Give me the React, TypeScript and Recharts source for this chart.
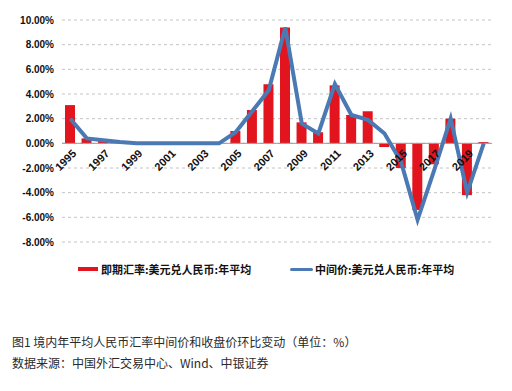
import { ComposedChart, Bar, Line, XAxis, YAxis, CartesianGrid, ReferenceLine } from 'recharts';

const years = [
  '1995', '1996', '1997', '1998', '1999', '2000', '2001', '2002', '2003', '2004', '2005', '2006', '2007',
  '2008', '2009', '2010', '2011', '2012', '2013', '2014', '2015', '2016', '2017', '2018', '2019', '2020',
];
const spotChange = [3.1, 0.4, 0.2, 0, 0, 0, 0, 0, 0, 0, 1.0, 2.7, 4.8, 9.4, 1.7, 0.9, 4.7, 2.3, 2.6, -0.3, -2.0, -5.4, -1.7, 2.0, -4.2, 0.1];
const centralChange = [2.0, 0.4, 0.25, 0.1, 0, 0, 0, 0, 0, 0, 0.9, 2.6, 4.3, 9.4, 1.6, 0.8, 4.8, 2.3, 1.9, 0.8, -1.5, -6.2, -2.2, 2.0, -4.0, 0];
const yTicks = [-8, -6, -4, -2, 0, 2, 4, 6, 8, 10];

const spotName = '即期汇率:美元兑人民币:年平均';
const centralName = '中间价:美元兑人民币:年平均';

const RED = '#E2141E';
const BLUE = '#4A79B3';

const W = 504;
const H = 250;
const TOP = 12;
const BOTTOM = 14;
const PLOT_H = H - TOP - BOTTOM - 2;
const Y_MIN = -8;
const Y_MAX = 10;
const ZERO_Y = TOP + (PLOT_H * Y_MAX) / (Y_MAX - Y_MIN);

const data = years.map((y, i) => ({ year: y, spot: spotChange[i], central: centralChange[i] }));

const font = '"Liberation Sans", Arial, sans-serif';
const cjk = '"Noto Sans CJK SC", "Noto Sans", sans-serif';

// year labels sit on the zero line, drawn over the bars like the original
function YearTick({ x, payload }: any) {
  return (
    <g transform={`translate(${x + 4},${ZERO_Y + 8}) rotate(-45)`}>
      <text textAnchor="end" dy="0.35em" fontSize={11} fontWeight="bold" fill="#111" fontFamily={font}>
        {payload.value}
      </text>
    </g>
  );
}

export default function App() {
  return (
    <div style={{ width: W, position: 'relative', background: '#fff' }}>
      <ComposedChart width={W} height={H} data={data} margin={{ top: TOP, right: 20, bottom: BOTTOM, left: 0 }}>
        <CartesianGrid vertical={false} stroke="#c4c4c4" strokeDasharray="3 3" />
        <XAxis dataKey="year" height={1} axisLine={false} tickLine={false} tick={false} />
        <YAxis
          width={54}
          domain={[Y_MIN, Y_MAX]}
          ticks={yTicks}
          axisLine={false}
          tickLine={false}
          tickFormatter={(v: number) => `${v.toFixed(2)}%`}
          tick={{ fontSize: 10, fontWeight: 'bold', fill: '#111', fontFamily: font }}
        />
        <ReferenceLine y={0} stroke="#9a9a9a" strokeWidth={1} />
        <Bar dataKey="spot" name={spotName} fill={RED} barSize={10} isAnimationActive={false} />
        <Line
          dataKey="central"
          name={centralName}
          stroke={BLUE}
          strokeWidth={4}
          dot={false}
          type="linear"
          isAnimationActive={false}
        />
        <XAxis
          xAxisId="labels"
          dataKey="year"
          height={1}
          axisLine={false}
          tickLine={false}
          interval={1}
          tick={<YearTick />}
        />
      </ComposedChart>
      <div style={{ position: 'relative', height: 30, fontFamily: cjk, fontSize: 11, fontWeight: 'bold', color: '#111' }}>
        <div style={{ position: 'absolute', left: 70, top: 3, display: 'flex', alignItems: 'center' }}>
          <span style={{ width: 20, height: 4, background: RED, marginRight: 3 }} />
          <span>{spotName}</span>
        </div>
        <div style={{ position: 'absolute', left: 282, top: 3, display: 'flex', alignItems: 'center' }}>
          <span style={{ width: 23, height: 3, background: BLUE, marginRight: 2, borderRadius: 2 }} />
          <span>{centralName}</span>
        </div>
      </div>
      <div style={{ marginTop: 43, marginLeft: 4, fontFamily: cjk, fontSize: 12, color: '#2a2a2a', lineHeight: '21px' }}>
        <div>图1 境内年平均人民币汇率中间价和收盘价环比变动（单位：%）</div>
        <div>数据来源：中国外汇交易中心、Wind、中银证券</div>
      </div>
    </div>
  );
}
